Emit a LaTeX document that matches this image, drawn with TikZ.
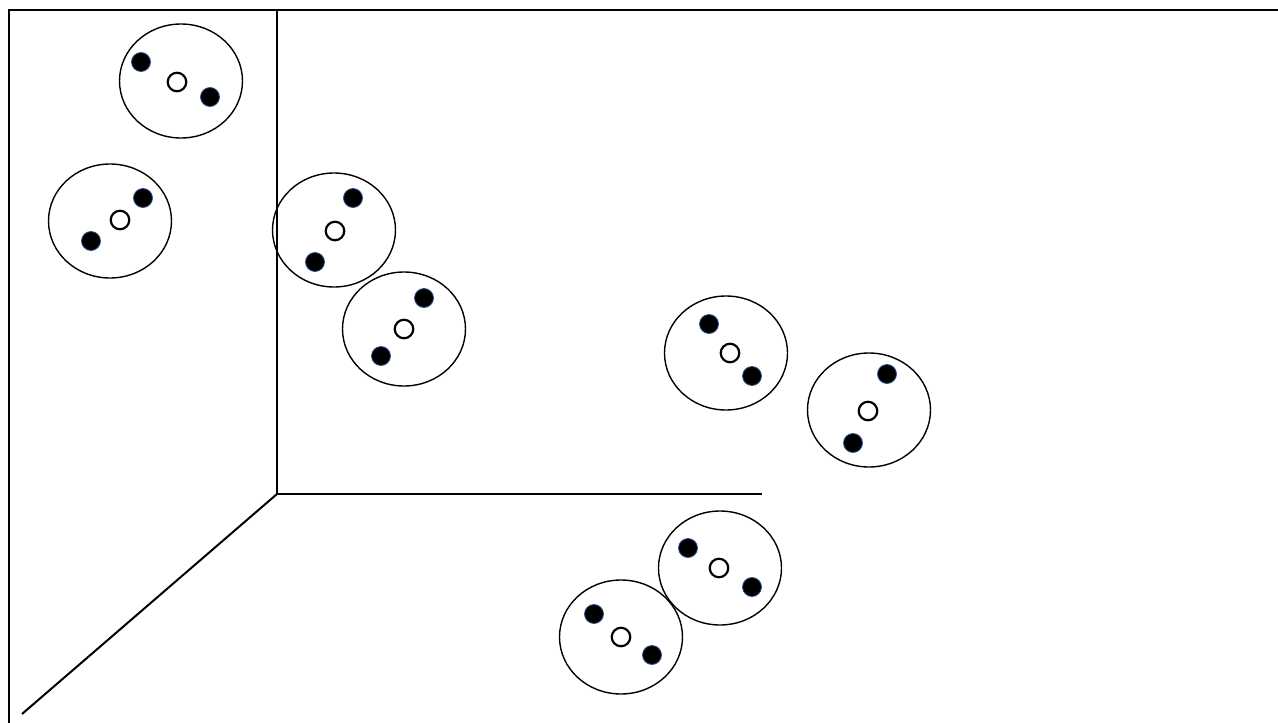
\documentclass[tikz,border=0pt]{standalone}
\usepackage{tikz}
\usetikzlibrary{shapes.geometric,positioning,calc}

\definecolor{dotedge}{RGB}{47,82,143}

\begin{document}
\begin{tikzpicture}[x=1pt,y=-1pt,
  cluster/.style={draw=black,ellipse,line width=1.4pt,minimum width=123pt,minimum height=114pt,inner sep=0pt},
  full/.style={circle,fill=black,draw=dotedge,line width=0.8pt,minimum size=19pt,inner sep=0pt},
  hollow/.style={circle,fill=white,draw=black,line width=2.2pt,minimum size=18.5pt,inner sep=0pt},
  axis/.style={line width=2pt}]
\useasboundingbox (0,0) rectangle (1278,723);
% frame
\coordinate (f-bl) at (9,723);
\coordinate (f-tl) at (9,10);
\coordinate (f-tr) at (1278,10);
\draw[line width=2.5pt] (f-bl) -- (f-tl) -- (f-tr);
% axes
\coordinate (o) at (277,494);
\coordinate (ax-y) at (277,11);
\coordinate (ax-x) at (762,494);
\coordinate (ax-z) at (22,714);
\path[axis]
(o) edge (ax-y)
(o) edge (ax-x)
(o) edge (ax-z)
;
% clusters
\foreach \n/\cx/\cy/\ax/\ay/\bx/\by/\hx/\hy in {
  a/181/81/141/62/210/97/177/82,
  b/110/221/143/198/91/241/120/220,
  c/334/230/353/198/315/262/335/231,
  d/404/329/424/298/381/356/404/329,
  e/726/353/709/324/752/376/730/353,
  f/869/410/887/374/853/443/868/411,
  g/720/568/688/548/752/587/719/568,
  h/621/637/594/614/652/655/621/637}
{
  \node[cluster] (\n) at (\cx,\cy) {};
  \node[full] (\n-1) at (\ax,\ay) {};
  \node[full] (\n-2) at (\bx,\by) {};
  \node[hollow] (\n-0) at (\hx,\hy) {};
}
\end{tikzpicture}
\end{document}
